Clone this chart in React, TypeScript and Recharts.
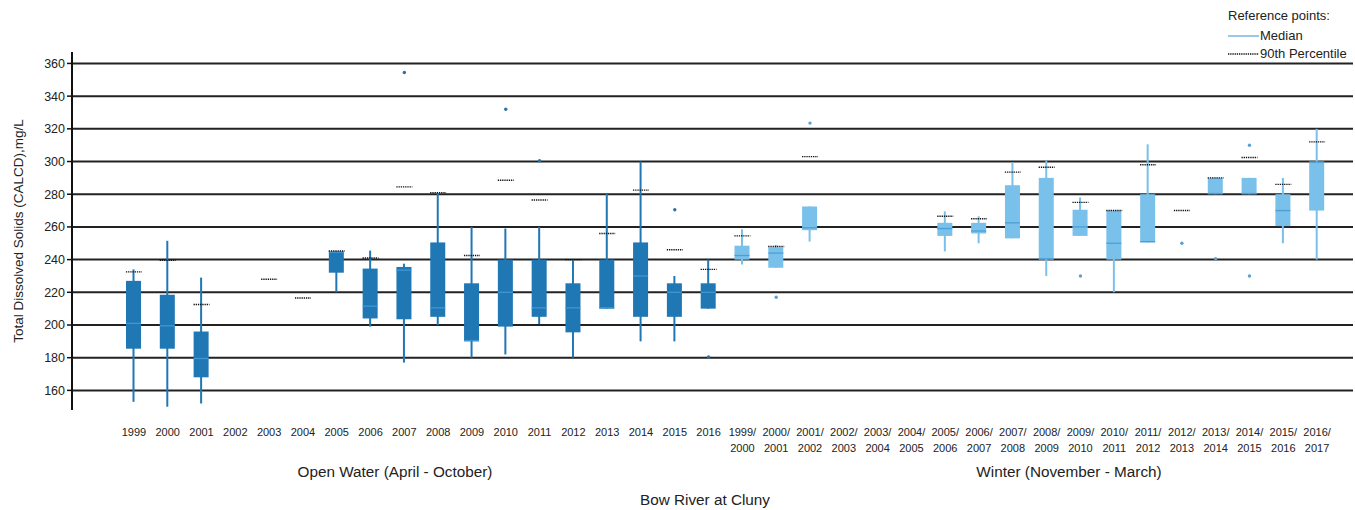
import React from 'react';
import { ComposedChart, Bar, Scatter, XAxis, YAxis, CartesianGrid } from 'recharts';

// Sampling periods: open water years followed by winter seasons
const openWater = ['1999', '2000', '2001', '2002', '2003', '2004', '2005', '2006', '2007', '2008', '2009', '2010', '2011', '2012', '2013', '2014', '2015', '2016'];
const winter = ['1999/2000', '2000/2001', '2001/2002', '2002/2003', '2003/2004', '2004/2005', '2005/2006', '2006/2007', '2007/2008', '2008/2009', '2009/2010', '2010/2011', '2011/2012', '2012/2013', '2013/2014', '2014/2015', '2015/2016', '2016/2017'];

// Box statistics, mg/L (null = no samples)
const whiskerLow = [153, 150, 152, null, null, null, 220, 199, 177, 200, 180, 182, 200.5, 180, 210, 190, 190, 210,
  237, 235, 251, null, null, null, 245, 250, 253, 230, 254.5, 220, 250.5, null, 280, 280, 250, 240];
const quartile1 = [185.5, 185.5, 168, null, null, null, 232, 204, 203.5, 205, 190, 199, 205, 195.5, 210, 205, 205, 210,
  240, 235, 258, null, null, null, 254.5, 256, 253, 240, 254.5, 240, 250.5, null, 280, 280, 260.5, 270];
const median = [201, 199.5, 179.5, null, null, null, 244.5, 211.5, 233.5, 210.5, 190.5, 220, 210.5, 210.5, 210.5, 230, 220, 220,
  242.5, 244, 259.5, null, null, null, 259, 257.5, 262.5, 240.5, 260, 250, 251, null, 280.3, 280.3, 270, 300];
const quartile3 = [227, 218.5, 196, null, null, null, 245, 234.5, 235.5, 250.5, 225.5, 240, 240, 225.5, 240, 250.5, 225.5, 225.5,
  248.5, 247.5, 272.5, null, null, null, 262.5, 262.5, 285.5, 290, 270.5, 270, 280, null, 290, 290, 280, 300];
const whiskerHigh = [234, 251.5, 229, null, null, null, 245, 245.5, 237.5, 280.5, 260, 259, 260, 240, 280.5, 300, 230, 240,
  258.5, 249, 272.5, null, null, null, 269.5, 266.5, 299.5, 300.5, 278, 270, 310.5, null, 290, 290, 290, 320];

// Reference points: 90th percentile
const percentile90 = [232.5, 239.5, 212.5, null, 228, 216.5, 245.3, 241, 284.5, 281, 242.5, 288.5, 276.5, 240, 256, 282.5, 246, 234,
  254.5, 248, 303, null, null, null, 266.5, 265, 293.5, 296.5, 275, 270, 298, 270, 290, 302.5, 286, 312];

// Outliers
const outlierA = [null, null, null, null, null, null, null, null, 354.5, null, null, 332, 300.5, null, null, null, 270.5, 180.5,
  null, 217, 323.5, null, null, null, null, null, null, null, 230, null, null, 250, 240.5, 310, null, null];
const outlierB = [null, null, null, null, null, null, null, null, null, null, null, null, null, null, null, null, null, null,
  null, null, null, null, null, null, null, null, null, null, null, null, null, null, null, 230, null, null];

const yTicks = [160, 180, 200, 220, 240, 260, 280, 300, 320, 340, 360];

const categories = [...openWater, ...winter];
const data = categories.map((cat, i) => ({
  cat,
  season: i < openWater.length ? 'open' : 'winter',
  lo: whiskerLow[i],
  q1: quartile1[i],
  med: median[i],
  q3: quartile3[i],
  hi: whiskerHigh[i],
  range: whiskerLow[i] == null ? null : [whiskerLow[i], whiskerHigh[i]],
  p90: percentile90[i],
  outA: outlierA[i],
  outB: outlierB[i],
}));

const FONT = '"Liberation Sans", Arial, sans-serif';
const COLORS = {
  open: { box: '#1f77b4', median: '#3f97d6', outlier: '#2a72a8' },
  winter: { box: '#79c0eb', median: '#4c9fd5', outlier: '#5d9fcf' },
};

const BoxShape = (props: any) => {
  const { x, y, width, height, payload } = props;
  if (!payload || payload.lo == null || !isFinite(y) || !isFinite(height)) return null;
  const top = Math.min(y, y + height);
  const bottom = Math.max(y, y + height);
  const { lo, hi, q1, q3, med } = payload;
  const toPx = (v: number) => (hi === lo ? top : top + ((hi - v) / (hi - lo)) * (bottom - top));
  const cx = x + width / 2;
  const c = COLORS[payload.season as 'open' | 'winter'];
  const boxTop = toPx(q3);
  const boxBottom = toPx(q1);
  const medY = Math.min(Math.max(toPx(med), boxTop + 0.7), boxBottom - 0.7);
  return (
    <g>
      <line x1={cx} x2={cx} y1={top} y2={bottom} stroke={c.box} strokeWidth={2} />
      <rect x={x} y={boxTop} width={width} height={boxBottom - boxTop} fill={c.box} />
      <line x1={x} x2={x + width} y1={medY} y2={medY} stroke={c.median} strokeWidth={1.3} />
    </g>
  );
};

const P90Shape = (props: any) => {
  const { cx, cy, payload } = props;
  if (!payload || payload.p90 == null || !isFinite(cx) || !isFinite(cy)) return null;
  return (
    <line x1={cx - 8} x2={cx + 8} y1={cy} y2={cy} stroke="#111" strokeWidth={1.4} strokeDasharray="1.3 0.9" />
  );
};

const makeOutlierShape = (key: 'outA' | 'outB') => (props: any) => {
  const { cx, cy, payload } = props;
  if (!payload || payload[key] == null || !isFinite(cx) || !isFinite(cy)) return null;
  const c = COLORS[payload.season as 'open' | 'winter'];
  return <circle cx={cx} cy={cy} r={1.7} fill={c.outlier} />;
};

const CategoryTick = (props: any) => {
  const { x, y, payload } = props;
  const parts = String(payload.value).split('/');
  const lines = parts.length > 1 ? [parts[0] + '/', parts[1]] : [parts[0]];
  return (
    <text x={x} y={y} textAnchor="middle" fontSize={11} fontFamily={FONT} fill="#222">
      {lines.map((l, i) => (
        <tspan key={i} x={x} dy={i === 0 ? 26 : 15.5}>
          {l}
        </tspan>
      ))}
    </text>
  );
};

export default function App() {
  return (
    <div style={{ position: 'absolute', left: 0, top: 0, width: 1355, height: 510, background: '#fff', fontFamily: FONT }}>
      <ComposedChart
        width={1355}
        height={510}
        data={data}
        margin={{ top: 52, right: 2, bottom: 70, left: 0 }}
      >
        <CartesianGrid horizontal vertical={false} horizontalValues={yTicks} stroke="#222" strokeWidth={2} />
        <XAxis
          dataKey="cat"
          type="category"
          interval={0}
          axisLine={false}
          tickLine={false}
          tickSize={0}
          tickMargin={0}
          height={30}
          padding={{ left: 45, right: 19 }}
          tick={<CategoryTick />}
        />
        <YAxis
          type="number"
          domain={[148, 367]}
          ticks={yTicks}
          width={72}
          axisLine={{ stroke: '#111', strokeWidth: 2 }}
          tickLine={{ stroke: '#111', strokeWidth: 1.5 }}
          tickSize={5}
          tickMargin={2}
          tick={{ fontSize: 12.5, fill: '#222', fontFamily: FONT }}
        />
        <Bar dataKey="range" barSize={15} shape={<BoxShape />} isAnimationActive={false} />
        <Scatter dataKey="p90" shape={<P90Shape />} isAnimationActive={false} />
        <Scatter dataKey="outA" shape={makeOutlierShape('outA')} isAnimationActive={false} />
        <Scatter dataKey="outB" shape={makeOutlierShape('outB')} isAnimationActive={false} />
      </ComposedChart>
      <svg
        width={1355}
        height={510}
        style={{ position: 'absolute', left: 0, top: 0, pointerEvents: 'none' }}
        fontFamily={FONT}
      >
        <text x={18} y={231} transform="rotate(-90 18 231)" textAnchor="middle" dominantBaseline="central" fontSize={13.5} fill="#222">
          Total Dissolved Solids (CALCD),mg/L
        </text>
        <text x={395} y={477} textAnchor="middle" fontSize={15.3} fill="#222">Open Water (April - October)</text>
        <text x={1069} y={477} textAnchor="middle" fontSize={15.3} fill="#222">Winter (November - March)</text>
        <text x={705} y={505} textAnchor="middle" fontSize={15.3} fill="#222">Bow River at Cluny</text>
        <text x={1228} y={20} fontSize={13} fill="#222">Reference points:</text>
        <line x1={1228} x2={1259} y1={36} y2={36} stroke="#7ab6e0" strokeWidth={1.5} />
        <text x={1260} y={40} fontSize={13} fill="#222">Median</text>
        <line x1={1228} x2={1259} y1={54} y2={54} stroke="#111" strokeWidth={1.4} strokeDasharray="1.3 0.9" />
        <text x={1260} y={58} fontSize={13} fill="#222">90th Percentile</text>
      </svg>
    </div>
  );
}
